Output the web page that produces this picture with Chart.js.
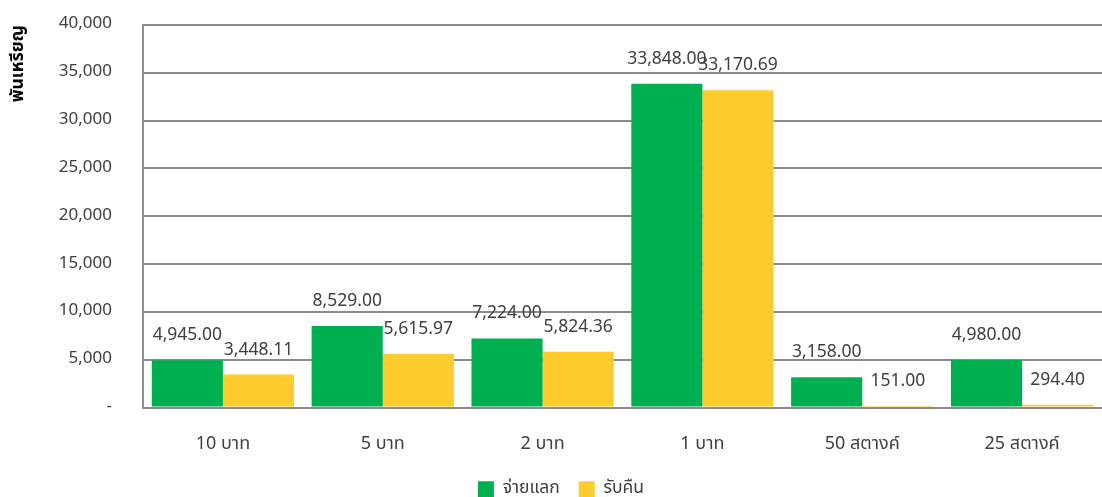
<!DOCTYPE html>
<html>
<head>
<meta charset="utf-8">
<script src="https://cdn.jsdelivr.net/npm/chart.js@4.4.1/dist/chart.umd.min.js"></script>
<style>
  html, body { margin: 0; padding: 0; background: #fff; }
  #wrap { width: 1102px; height: 497px; }
</style>
</head>
<body>
<div id="wrap"><canvas id="coinChart" width="1102" height="497"></canvas></div>
<script>
const categories = ['10 บาท', '5 บาท', '2 บาท', '1 บาท', '50 สตางค์', '25 สตางค์'];
const issued = [4945.00, 8529.00, 7224.00, 33848.00, 3158.00, 4980.00];
const returned = [3448.11, 5615.97, 5824.36, 33170.69, 151.00, 294.40];
const seriesNames = ['จ่ายแลก', 'รับคืน'];
const yTicks = [0, 5000, 10000, 15000, 20000, 25000, 30000, 35000, 40000];

const FONT = '"Noto Sans Thai", "Noto Sans", "DejaVu Sans", sans-serif';

// Excel-style value labels above each bar
const valueLabels = {
  id: 'valueLabels',
  afterLayout(chart) {
    // legend in the original sits a little right of the canvas centre
    if (chart.legend) {
      chart.legend.left += 10;
      chart.legend.right += 10;
    }
  },
  afterDatasetsDraw(chart) {
    const ctx = chart.ctx;
    ctx.save();
    ctx.font = '17.5px ' + FONT;
    ctx.fillStyle = '#404040';
    ctx.textAlign = 'center';
    ctx.textBaseline = 'alphabetic';
    chart.data.datasets.forEach((ds, i) => {
      chart.getDatasetMeta(i).data.forEach((bar, j) => {
        const txt = ds.data[j].toLocaleString('en-US', { minimumFractionDigits: 2, maximumFractionDigits: 2 });
        ctx.fillText(txt, bar.x, bar.y - 20);
      });
    });
    ctx.restore();
  }
};

const ctx = document.getElementById('coinChart').getContext('2d');
new Chart(ctx, {
  type: 'bar',
  data: {
    labels: categories,
    datasets: [
      { label: seriesNames[0], data: issued, backgroundColor: '#00B050', categoryPercentage: 0.89, barPercentage: 1.0 },
      { label: seriesNames[1], data: returned, backgroundColor: '#FFCC2E', categoryPercentage: 0.89, barPercentage: 1.0 },
    ],
  },
  options: {
    responsive: false,
    animation: false,
    layout: { padding: { top: 0, right: 0, left: 0, bottom: -11 } },
    plugins: {
      legend: {
        position: 'bottom',
        labels: {
          boxWidth: 16,
          boxHeight: 16,
          padding: 19,
          color: '#404040',
          font: { family: FONT, size: 17.5 },
        },
      },
      tooltip: { enabled: false },
    },
    scales: {
      x: {
        afterFit: (axis) => { axis.height = 54; },
        grid: { display: false, drawTicks: false },
        border: { display: true, color: '#8c8c8c', width: 2 },
        ticks: { color: '#404040', padding: 27, font: { family: FONT, size: 18 } },
      },
      y: {
        min: 0,
        max: 40000,
        afterBuildTicks: (axis) => { axis.ticks = yTicks.map((v) => ({ value: v })); },
        afterFit: (axis) => {
          axis.width = 143;
          axis.paddingTop = 25;
          axis.paddingBottom = 10;
        },
        grid: { color: '#8c8c8c', lineWidth: 2, drawTicks: false },
        border: { display: true, color: '#8c8c8c', width: 2 },
        ticks: {
          color: '#404040',
          padding: 31,
          font: { family: FONT, size: 17 },
          callback: (v) => (v === 0 ? '-' : v.toLocaleString('en-US')),
        },
        title: {
          display: true,
          text: 'พันเหรียญ',
          align: 'end',
          color: '#000',
          padding: { top: 9, bottom: 10 },
          font: { family: FONT, size: 17.5, weight: 'bold' },
        },
      },
    },
  },
  plugins: [valueLabels],
});
</script>
</body>
</html>
